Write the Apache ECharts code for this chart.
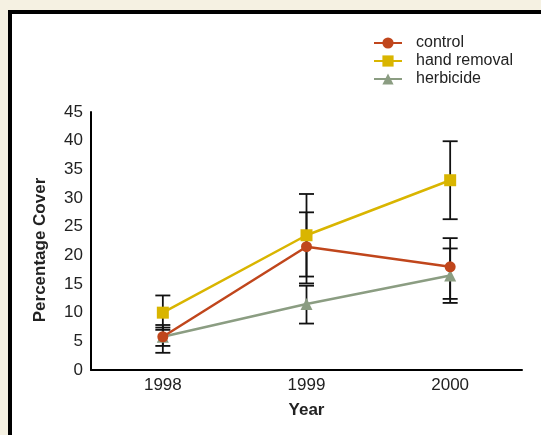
<!DOCTYPE html>
<html><head><meta charset="utf-8">
<script src="https://cdn.jsdelivr.net/npm/echarts@6/dist/echarts.min.js"></script>
<style>html,body{margin:0;padding:0;background:#f5f1e2;}#c{width:541px;height:435px;}</style>
</head><body><div id="c"></div>
<script>
const years = ['1998', '1999', '2000'];
const controlMean = [5.8, 21.5, 18.0];
const controlLow = [3.0, 15.1, 12.4];
const controlHigh = [7.85, 27.5, 23.0];
const handMean = [10.0, 23.5, 33.1];
const handLow = [7.0, 16.3, 26.3];
const handHigh = [13.0, 30.7, 39.9];
const herbMean = [5.8, 11.5, 16.5];
const herbLow = [4.2, 8.1, 11.7];
const herbHigh = [7.4, 14.7, 21.2];
const yTicks = [0, 5, 10, 15, 20, 25, 30, 35, 40, 45];

const errData = [];
[[controlLow, controlHigh], [handLow, handHigh], [herbLow, herbHigh]].forEach(([lo, hi]) => {
  years.forEach((y, i) => errData.push([i, lo[i], hi[i]]));
});

const chart = echarts.init(document.getElementById('c'), null, {renderer: 'canvas'});
const font = 'Liberation Sans, Arial, sans-serif';
chart.setOption({
  backgroundColor: '#f5f1e2',
  animation: false,
  graphic: [{
    type: 'rect', z: -10, shape: {x: 10, y: 12, width: 600, height: 500},
    style: {fill: '#ffffff', stroke: '#000000', lineWidth: 4}
  }],
  legend: {
    left: 373, top: 35, orient: 'vertical', itemGap: 2, padding: 0,
    itemWidth: 28, itemHeight: 14,
    textStyle: {fontFamily: font, fontSize: 16, color: '#222', fontWeight: 500, padding: [0, 0, 0, 9]},
    data: ['control', 'hand removal', 'herbicide']
  },
  grid: {left: 91, right: 19, top: 112, bottom: 65},
  xAxis: {
    type: 'category', data: years,
    axisLine: {lineStyle: {color: '#000', width: 2}},
    axisTick: {show: false},
    axisLabel: {fontFamily: font, fontSize: 17, color: '#222', margin: 7},
    name: 'Year', nameLocation: 'middle', nameGap: 32,
    nameTextStyle: {fontFamily: font, fontSize: 17, fontWeight: 'bold', color: '#222'}
  },
  yAxis: {
    type: 'value', min: 0, max: 45, interval: 5,
    axisLine: {show: true, lineStyle: {color: '#000', width: 2}},
    axisTick: {show: false},
    splitLine: {show: false},
    axisLabel: {fontFamily: font, fontSize: 17, color: '#222', margin: 8,
      formatter: v => yTicks.includes(v) ? String(v) : ''},
    name: 'Percentage Cover', nameLocation: 'middle', nameGap: 42,
    nameTextStyle: {fontFamily: font, fontSize: 17, fontWeight: 'bold', color: '#222', padding: [0, 0, 0, -18]}
  },
  series: [
    {
      type: 'custom', name: 'err', z: 1, silent: true,
      data: errData,
      renderItem: function (params, api) {
        const x = api.coord([api.value(0), api.value(1)])[0];
        const yl = api.coord([api.value(0), api.value(1)])[1];
        const yh = api.coord([api.value(0), api.value(2)])[1];
        const hw = 7.5;
        const st = {stroke: '#111', lineWidth: 1.8};
        return {type: 'group', children: [
          {type: 'line', shape: {x1: x, y1: yl, x2: x, y2: yh}, style: st},
          {type: 'line', shape: {x1: x - hw, y1: yl, x2: x + hw, y2: yl}, style: st},
          {type: 'line', shape: {x1: x - hw, y1: yh, x2: x + hw, y2: yh}, style: st}
        ]};
      }
    },
    {name: 'herbicide', type: 'line', data: herbMean, z: 3, symbol: 'triangle', symbolSize: 12,
      color: '#8b9d82', lineStyle: {width: 2.5, color: '#8b9d82'}, itemStyle: {color: '#8b9d82'}},
    {name: 'control', type: 'line', data: controlMean, z: 4, symbol: 'circle', symbolSize: 11,
      color: '#c0461c', lineStyle: {width: 2.5, color: '#c0461c'}, itemStyle: {color: '#c0461c'}},
    {name: 'hand removal', type: 'line', data: handMean, z: 5, symbol: 'rect', symbolSize: 12,
      color: '#d9b500', lineStyle: {width: 2.5, color: '#d9b500'}, itemStyle: {color: '#d9b500'}}
  ]
});
</script></body></html>
